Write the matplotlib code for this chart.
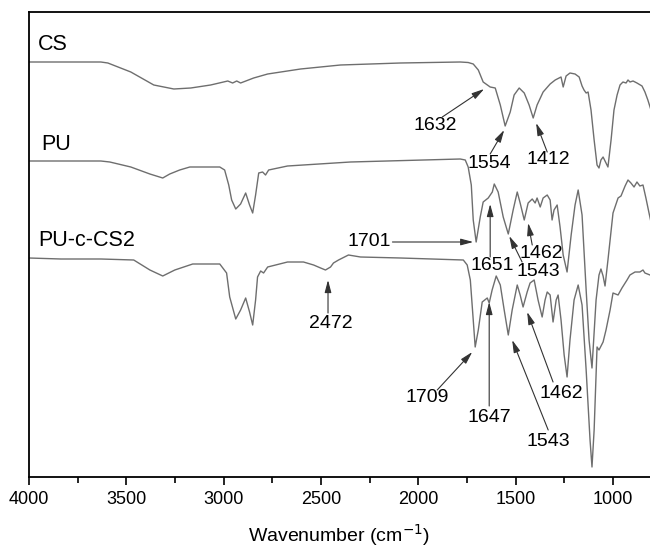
import matplotlib
matplotlib.use("Agg")
import matplotlib.pyplot as plt
from matplotlib.ticker import MultipleLocator, NullLocator

plt.rcParams['font.family'] = ['Liberation Sans', 'DejaVu Sans']

# spectra: wavenumber (cm-1) and transmittance (a.u., curves stacked)
cs_wn = [4000, 3836, 3631, 3595, 3477, 3359, 3256, 3169, 3067, 2979, 2954, 2933, 2913,
         2846, 2774, 2605, 2400, 2092, 1785, 1744, 1718, 1692, 1667, 1631, 1605, 1579,
         1554, 1528, 1508, 1482, 1456, 1431, 1410, 1390, 1359, 1323, 1297, 1277, 1267,
         1256, 1241, 1221, 1195, 1174, 1159, 1149, 1138, 1128, 1113, 1097, 1082, 1072,
         1062, 1051, 1036, 1026, 1010, 995, 979, 964, 949, 933, 923, 913, 897, 877, 851,
         836, 821, 805]
cs_t = [415, 415, 415, 414, 405, 392, 388, 389, 392, 396, 394, 396, 394,
        399, 403, 408, 412, 414, 415, 414.5, 413, 407, 395, 390, 389, 372,
        351, 365, 382, 389, 384, 372, 359, 372, 385, 393, 397, 399, 400,
        390, 401, 404, 403, 400, 391, 387, 384, 385, 367, 337, 312, 309,
        317, 320, 314, 310, 337, 367, 382, 392, 395, 394, 397, 395, 396, 394, 391,
        385, 377, 367]

pu_wn = [4000, 3836, 3631, 3585, 3477, 3379, 3313, 3277, 3226, 3174, 3020, 2995, 2974,
         2959, 2938, 2913, 2887, 2867, 2851, 2836, 2820, 2800, 2785, 2769, 2672, 2349,
         1785, 1759, 1744, 1728, 1718, 1703, 1682, 1667, 1641, 1620, 1610, 1590, 1564,
         1538, 1513, 1492, 1477, 1456, 1436, 1415, 1400, 1390, 1374, 1359, 1338, 1323,
         1313, 1303, 1287, 1272, 1256, 1236, 1215, 1195, 1179, 1159, 1138, 1123, 1108,
         1087, 1072, 1062, 1051, 1041, 1026, 1000, 974, 959, 938, 923, 908, 892, 877,
         862, 846, 831, 815, 805]
pu_t = [316, 316, 316, 315, 310, 303, 299, 303, 307, 310, 310, 307, 292,
        277, 268, 273, 284, 272, 264, 282, 304, 305, 302, 307, 311, 315,
        318, 317, 310, 292, 257, 235, 260, 275, 279, 285, 293, 285, 260,
        243, 267, 285, 274, 257, 274, 278, 274, 279, 270, 279, 282, 277,
        257, 267, 272, 250, 222, 205, 242, 272, 287, 262, 187, 137, 109,
        177, 202, 208, 201, 191, 217, 264, 279, 281, 291, 297, 294, 290, 295,
        291, 292, 279, 264, 255]

pucs_wn = [4000, 3836, 3631, 3462, 3379, 3313, 3251, 3159, 3020, 2985, 2969, 2938, 2913,
           2887, 2867, 2851, 2836, 2826, 2810, 2795, 2774, 2672, 2590, 2538, 2502, 2477,
           2451, 2436, 2410, 2359, 2297, 2092, 1769, 1749, 1733, 1718, 1708, 1692, 1672,
           1646, 1636, 1621, 1600, 1579, 1559, 1538, 1518, 1492, 1477, 1462, 1441, 1426,
           1405, 1385, 1364, 1349, 1338, 1323, 1308, 1292, 1282, 1267, 1251, 1236, 1221,
           1200, 1179, 1159, 1138, 1118, 1108, 1097, 1082, 1072, 1051, 1036, 1015, 1000,
           974, 954, 928, 913, 887, 862, 846, 836, 810]
pucs_t = [219, 218, 218, 217, 207, 201, 207, 213, 213, 204, 180, 158, 167,
          179, 165, 152, 177, 200, 206, 204, 210, 215, 215, 212, 209, 207,
          210, 214, 217, 222, 220, 219, 217, 212, 197, 157, 130, 147, 175,
          179, 174, 187, 201, 192, 167, 142, 167, 192, 182, 170, 185, 194,
          197, 177, 160, 177, 185, 182, 155, 177, 182, 157, 122, 100, 137,
          177, 192, 172, 107, 37, 10, 47, 130, 127, 135, 147, 167, 184,
          182, 189, 197, 202, 205, 205, 207, 204, 202]

sample_names = ['CS', 'PU', 'PU-c-CS2']
peak_labels = ['1632', '1554', '1412',
               '1701', '1651', '1543', '1462',
               '2472', '1709', '1647', '1543', '1462']

# layout: sample name positions, (text xy, arrow tail, arrow head) for each peak label
name_pos = [(3955, 432), (3935, 332), (3955, 236)]
peak_pos = [
    ((1913, 351), (1877, 360), (1662, 388)),
    ((1636, 314), (1631, 323), (1559, 347)),
    ((1333, 317), (1338, 325), (1395, 354)),
    ((2251, 236), (2133, 235), (1718, 235)),
    ((1620, 211), (1631, 220), (1631, 273)),
    ((1385, 205), (1467, 215), (1533, 241)),
    ((1369, 223), (1415, 232), (1436, 254)),
    ((2451, 153), (2464, 164), (2464, 197)),
    ((1954, 80), (1903, 87), (1723, 125)),
    ((1636, 59), (1636, 71), (1636, 175)),
    ((1333, 36), (1333, 47), (1518, 137)),
    ((1267, 83), (1308, 95), (1441, 165)),
]

fig = plt.figure(figsize=(6.5, 5.47), dpi=100)
ax = fig.add_axes([29 / 650, 1 - 477 / 547, 1 - 29 / 650, (477 - 12) / 547])

line_color = '#6e6e6e'
for wn, t in [(cs_wn, cs_t), (pu_wn, pu_t), (pucs_wn, pucs_t)]:
    ax.plot(wn, t, color=line_color, lw=1.0, solid_joinstyle='round')

for name, (x, y) in zip(sample_names, name_pos):
    ax.text(x, y, name, fontsize=15.5, ha='left', va='center')

for lab, (txt, tail, head) in zip(peak_labels, peak_pos):
    ax.text(txt[0], txt[1], lab, fontsize=14, ha='center', va='center')
    ax.annotate('', xy=head, xytext=tail,
                arrowprops=dict(arrowstyle='-|>,head_length=0.75,head_width=0.2',
                                color='#333333', lw=0.8, shrinkA=0, shrinkB=0))

ax.set_xlim(4000, 810)
ax.set_ylim(0, 465)
ax.xaxis.set_major_locator(MultipleLocator(500))
ax.xaxis.set_minor_locator(MultipleLocator(250))
ax.yaxis.set_major_locator(NullLocator())
ax.tick_params(axis='x', which='major', direction='out', length=6, width=1.2,
               labelsize=13, pad=4)
ax.tick_params(axis='x', which='minor', direction='out', length=4, width=1.2)
ax.spines['right'].set_visible(False)
for s in ['left', 'top', 'bottom']:
    ax.spines[s].set_linewidth(1.3)
ax.set_xlabel('Wavenumber (cm$^{-1}$)', fontsize=14, labelpad=10)

fig.savefig('out.png', dpi=100)
